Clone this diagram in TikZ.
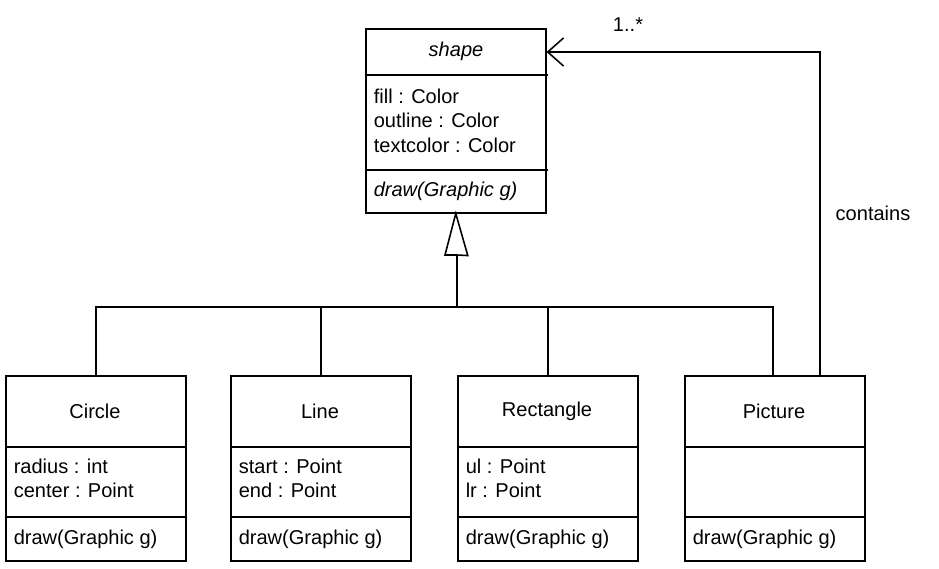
\documentclass[tikz,border=0pt]{standalone}
\usepackage{fontspec}
\setmainfont{Liberation Sans}
\usetikzlibrary{arrows.meta}
\begin{document}
\begin{tikzpicture}[x=0.02cm, y=-0.02cm, font=\fontsize{11.4}{14}\selectfont,
  line width=0.9pt,
  box/.style={draw, minimum width=3.6cm, inner sep=0},
  txt/.style={anchor=north west, align=left, inner sep=0}]
\useasboundingbox (0,0) rectangle (939,568);
% abstract class
\node[box, minimum height=3.68cm, anchor=north west] (shape) at (365,28) {};
\draw (365,75) -- (548,75) (365,170) -- (548,170);
\node (sn) at (456,51) {\itshape shape};
\node[txt] (sa) at (373,88) {fill : Color\\outline : Color\\textcolor : Color};
\node[txt] (so) at (373,181) {\itshape draw(Graphic g)};
% subclasses
\foreach \x/\n/\a/\o in {5/Circle/{radius : int\\center : Point}/circ,
                         230/Line/{start : Point\\end : Point}/line,
                         457/Rectangle/{ul : Point\\lr : Point}/rect,
                         684/Picture/{}/pict}{
  \node[box, minimum height=3.7cm, anchor=north west] (\o) at (\x,375) {};
  \draw (\x,447) -- ++(180,0) (\x,517) -- ++(180,0);
  \node (\o-n) at (\x+90,411) {\n};
  \node[txt] (\o-a) at (\x+8,458) {\a};
  \node[txt] (\o-o) at (\x+8,529) {draw(Graphic g)};
}
% generalisation
\coordinate (tb) at (457,255);
\coordinate (bus) at (457,307);
\draw (tb) -- (bus);
\draw[fill=white] (tb) -- ++(-12,0) -- (shape.south) -- ++(12,42) -- cycle;
\draw (circ.north) |- (bus) -| (pict.north-|773,0);
\draw (line.north) -- (line.north|-bus);
\draw (rect.north) -- (rect.north|-bus);
% association
\coordinate (ac) at (820,52);
\draw[-{Straight Barb[length=9pt, width=16pt]}] (pict.north-|ac) -- (ac) -- (shape.north east|-ac);
\node (m) at (628,25) {1..*};
\node (c) at (873,213) {contains};
\end{tikzpicture}
\end{document}
